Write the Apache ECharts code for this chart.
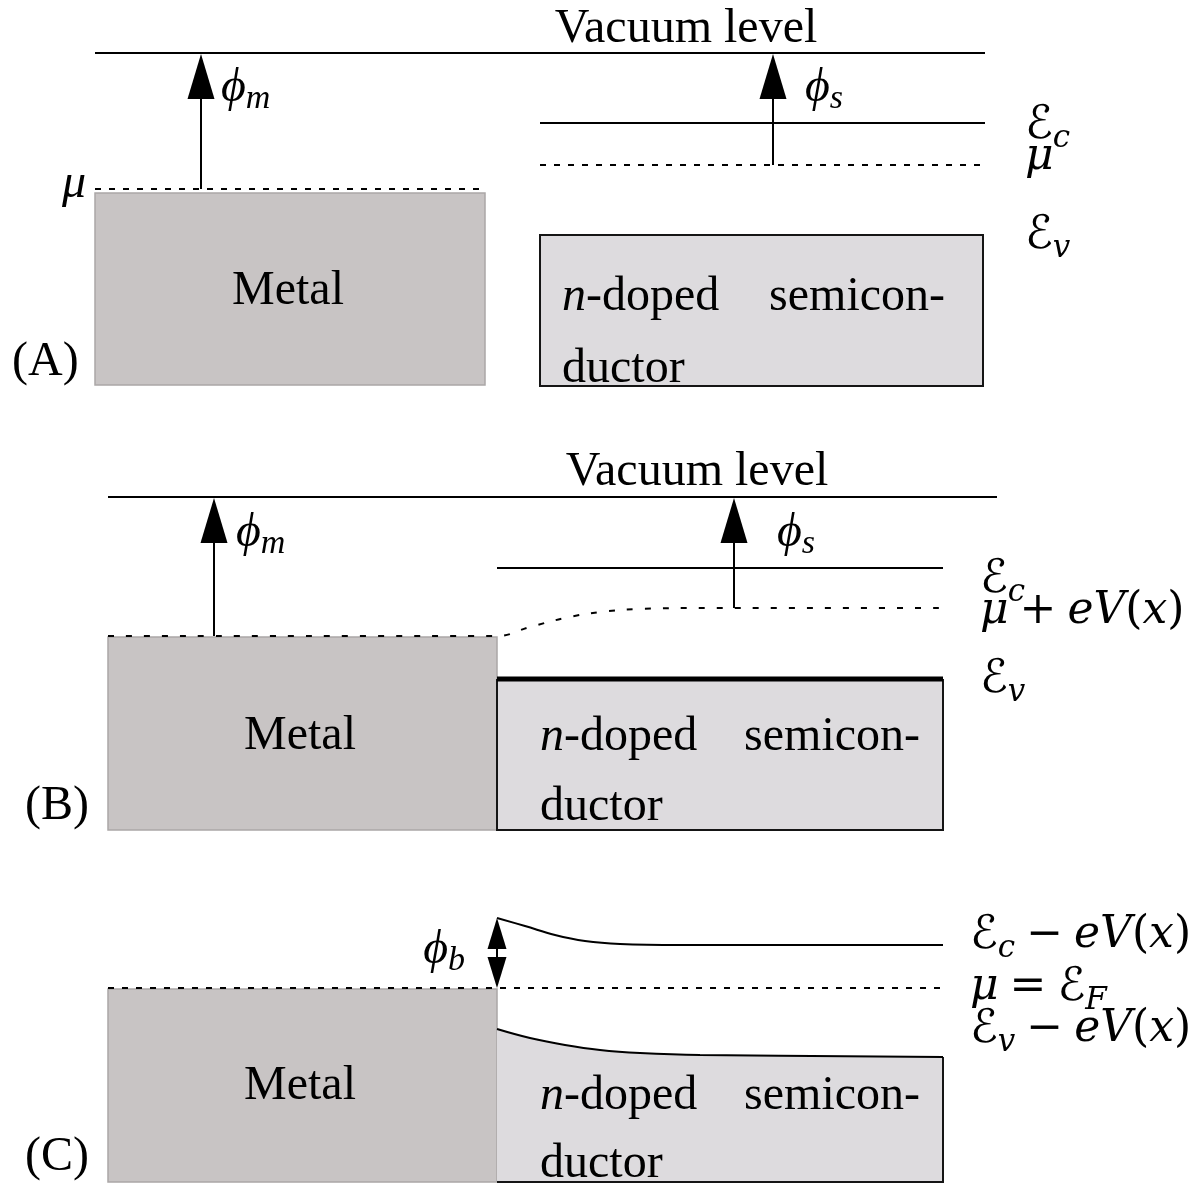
<!DOCTYPE html>
<html>
<head>
<meta charset="utf-8">
<script src="https://cdn.jsdelivr.net/npm/echarts@6/dist/echarts.min.js"></script>
<style>
  html, body { margin: 0; padding: 0; background: #ffffff; }
  #chart { width: 1198px; height: 1186px; }
</style>
</head>
<body>
<div id="chart"></div>
<script>
// Band diagram of a metal / n-doped semiconductor (Schottky) contact.
// Diagram space: x to the right, y downward, one unit per pixel of the 1198 x 1186 frame.

// ---- Panel A: metal and semiconductor apart ----
const vacuumA     = [[95, 53], [985, 53]];
const fermiMetalA = [[95, 189], [485, 189]];
const conductionA = [[540, 123], [985, 123]];
const fermiSemiA  = [[540, 165], [985, 165]];

// ---- Panel B: in contact, before charge transfer ----
const vacuumB     = [[108, 497], [997, 497]];
const conductionB = [[497, 568], [943, 568]];
const fermiB      = [[108, 636], [497, 636], [530, 627], [565, 618], [600, 612], [640, 609], [700, 608], [943, 608]];
const valenceB    = [[497, 679], [943, 679]];

// ---- Panel C: equilibrium, bent bands ----
const fermiC      = [[108, 988], [943, 988]];
const conductionC = [[497, 918], [525, 926], [555, 935], [585, 941], [620, 944], [680, 945], [943, 945]];
const valenceC    = [[497, 1029], [530, 1038], [565, 1045], [600, 1050], [640, 1053], [700, 1055], [943, 1057]];
const semiBaseC   = 1182;   // bottom of the semiconductor block in panel C

// Filled blocks [x0, y0, x1, y1]
const metalBlocks = [[95, 193, 485, 385], [108, 637, 497, 830], [108, 989, 497, 1182]];
const semiBlocks  = [[540, 235, 983, 386], [497, 680, 943, 830]];

// Work-function arrows [x, tail y, tip y] and the barrier double arrow [x, y top, y bottom]
const workArrows   = [[201, 189, 54], [773, 165, 54], [214, 636, 498], [734, 608, 498]];
const barrierArrow = [[497, 918, 988]];

// Plain text [x, y, text, align]
const plainLabels = [
  [686, 29, 'Vacuum level', 'center'],
  [697, 472, 'Vacuum level', 'center'],
  [288, 291, 'Metal', 'center'],
  [300, 736, 'Metal', 'center'],
  [300, 1086, 'Metal', 'center'],
  [12, 362, '(A)', 'left'],
  [25, 806, '(B)', 'left'],
  [25, 1157, '(C)', 'left'],
  [562, 297, '{i|n}-doped', 'left'],
  [945, 297, 'semicon-', 'right'],
  [562, 369, 'ductor', 'left'],
  [540, 737, '{i|n}-doped', 'left'],
  [920, 737, 'semicon-', 'right'],
  [540, 807, 'ductor', 'left'],
  [540, 1096, '{i|n}-doped', 'left'],
  [920, 1096, 'semicon-', 'right'],
  [540, 1164, 'ductor', 'left']
];

// Math labels [x, y, rich text, align]
const SP = '\u2005';
const mathLabels = [
  [86, 184, '{p|\u03bc}', 'right'],
  [221, 88, '{p|\u03d5}{ps|m}', 'left'],
  [805, 88, '{p|\u03d5}{ps|s}', 'left'],
  [1025, 126, '{c|\u2130}{s|c}', 'left'],
  [1025, 158, '{m|\u03bc}', 'left'],
  [1025, 236, '{c|\u2130}{s|v}', 'left'],
  [236, 533, '{p|\u03d5}{ps|m}', 'left'],
  [777, 533, '{p|\u03d5}{ps|s}', 'left'],
  [980, 580, '{c|\u2130}{s|c}', 'left'],
  [980, 612, '{m|\u03bc}{r|' + SP + '+' + SP + '}{m|eV}{r|(}{m|x}{r|)}', 'left'],
  [980, 680, '{c|\u2130}{s|v}', 'left'],
  [465, 950, '{p|\u03d5}{ps|b}', 'right'],
  [970, 936, '{c|\u2130}{s|c}{r|' + SP + '\u2212' + SP + '}{m|eV}{r|(}{m|x}{r|)}', 'left'],
  [970, 988, '{m|\u03bc}{r|' + SP + '=' + SP + '}{c|\u2130}{s|F}', 'left'],
  [970, 1030, '{c|\u2130}{s|v}{r|' + SP + '\u2212' + SP + '}{m|eV}{r|(}{m|x}{r|)}', 'left']
];

// ---- styling ----
const SERIF = '"Liberation Serif", "Times New Roman", "DejaVu Serif", serif';
const MATH = '"DejaVu Serif", "DejaVu Sans", serif';
const INK = '#000000';
const METAL_FILL = '#c8c4c4';
const METAL_EDGE = '#aba7a7';
const SEMI_FILL = '#dddbde';
const SEMI_EDGE = '#151515';
const DASH = [6, 8];

const plainRich = {
  i: { font: 'italic 48px ' + SERIF, fill: INK }
};
const mathRich = {
  p:  { font: 'italic 48px ' + SERIF, fill: INK, lineHeight: 56 },
  ps: { font: 'italic 34px ' + SERIF, fill: INK, lineHeight: 34, verticalAlign: 'bottom' },
  m:  { font: 'italic 44px ' + MATH, fill: INK, lineHeight: 56 },
  r:  { font: '44px ' + MATH, fill: INK, lineHeight: 56 },
  c:  { font: '46px ' + MATH, fill: INK, lineHeight: 56 },
  s:  { font: 'italic 31px ' + MATH, fill: INK, lineHeight: 34, verticalAlign: 'bottom' }
};

function levelLine(data, extra) {
  return Object.assign({
    type: 'line',
    data: data,
    symbol: 'none',
    silent: true,
    z: 5,
    lineStyle: { color: INK, width: 2 }
  }, extra || {});
}

function blockSeries(data, fill, edge, edgeWidth, z) {
  return {
    type: 'custom',
    data: data,
    silent: true,
    z: z,
    encode: { x: [0, 2], y: [1, 3] },
    renderItem: function (params, api) {
      const p0 = api.coord([api.value(0), api.value(1)]);
      const p1 = api.coord([api.value(2), api.value(3)]);
      return {
        type: 'rect',
        shape: { x: p0[0], y: p0[1], width: p1[0] - p0[0], height: p1[1] - p0[1] },
        style: { fill: fill, stroke: edge, lineWidth: edgeWidth }
      };
    }
  };
}

function arrowHead(tip, dir, w, h) {
  // dir = -1 points up, +1 points down
  return {
    type: 'polygon',
    shape: { points: [[tip[0], tip[1]], [tip[0] - w / 2, tip[1] - dir * h], [tip[0] + w / 2, tip[1] - dir * h]] },
    style: { fill: INK }
  };
}

const option = {
  animation: false,
  backgroundColor: '#ffffff',
  grid: { left: 0, right: 0, top: 0, bottom: 0 },
  xAxis: { type: 'value', min: 0, max: 1198, show: false },
  yAxis: { type: 'value', min: 0, max: 1186, inverse: true, show: false },
  series: [
    blockSeries(metalBlocks, METAL_FILL, METAL_EDGE, 1.5, 1),
    blockSeries(semiBlocks, SEMI_FILL, SEMI_EDGE, 2, 1),
    // Panel C semiconductor block bounded above by the bent valence band
    {
      type: 'custom',
      data: [[0, 0]],
      silent: true,
      z: 1,
      renderItem: function (params, api) {
        const top = valenceC.map(function (d) { return api.coord(d); });
        const last = valenceC[valenceC.length - 1];
        const first = valenceC[0];
        const br = api.coord([last[0], semiBaseC]);
        const bl = api.coord([first[0], semiBaseC]);
        return {
          type: 'group',
          children: [
            { type: 'polygon', shape: { points: top.concat([br, bl]), smooth: 0 }, style: { fill: SEMI_FILL } },
            { type: 'polyline', shape: { points: [api.coord(last), br, bl] }, style: { stroke: SEMI_EDGE, lineWidth: 2, fill: null } }
          ]
        };
      }
    },
    levelLine(vacuumA),
    levelLine(fermiMetalA, { lineStyle: { color: INK, width: 2, type: DASH } }),
    levelLine(conductionA),
    levelLine(fermiSemiA, { lineStyle: { color: INK, width: 2, type: DASH } }),
    levelLine(vacuumB),
    levelLine(conductionB),
    levelLine(fermiB, { smooth: 0.4, lineStyle: { color: INK, width: 2, type: [6, 12] } }),
    levelLine(valenceB, { lineStyle: { color: INK, width: 5 } }),
    levelLine(fermiC, { lineStyle: { color: INK, width: 2, type: DASH } }),
    levelLine(conductionC, { smooth: 0.4 }),
    levelLine(valenceC, { smooth: 0.4 }),
    // Work-function arrows
    {
      type: 'custom',
      data: workArrows,
      silent: true,
      z: 6,
      encode: { x: 0, y: [1, 2] },
      renderItem: function (params, api) {
        const tail = api.coord([api.value(0), api.value(1)]);
        const tip = api.coord([api.value(0), api.value(2)]);
        return {
          type: 'group',
          children: [
            { type: 'line', shape: { x1: tail[0], y1: tail[1], x2: tip[0], y2: tip[1] + 20 }, style: { stroke: INK, lineWidth: 2 } },
            arrowHead(tip, -1, 27, 45)
          ]
        };
      }
    },
    // Barrier height double arrow
    {
      type: 'custom',
      data: barrierArrow,
      silent: true,
      z: 6,
      encode: { x: 0, y: [1, 2] },
      renderItem: function (params, api) {
        const top = api.coord([api.value(0), api.value(1)]);
        const bot = api.coord([api.value(0), api.value(2)]);
        return {
          type: 'group',
          children: [
            { type: 'line', shape: { x1: top[0], y1: top[1] + 10, x2: bot[0], y2: bot[1] - 10 }, style: { stroke: INK, lineWidth: 2 } },
            arrowHead(top, -1, 19, 31),
            arrowHead(bot, 1, 19, 31)
          ]
        };
      }
    },
    // Plain text labels
    {
      type: 'custom',
      data: plainLabels.map(function (d) { return [d[0], d[1]]; }),
      silent: true,
      z: 8,
      encode: { x: 0, y: 1 },
      renderItem: function (params, api) {
        const item = plainLabels[params.dataIndex];
        const p = api.coord([item[0], item[1]]);
        return {
          type: 'text',
          x: p[0], y: p[1],
          style: {
            text: item[2], font: '48px ' + SERIF, fill: INK,
            align: item[3], verticalAlign: 'middle', rich: plainRich
          }
        };
      }
    },
    // Math labels
    {
      type: 'custom',
      data: mathLabels.map(function (d) { return [d[0], d[1]]; }),
      silent: true,
      z: 8,
      encode: { x: 0, y: 1 },
      renderItem: function (params, api) {
        const item = mathLabels[params.dataIndex];
        const p = api.coord([item[0], item[1]]);
        return {
          type: 'text',
          x: p[0], y: p[1],
          style: {
            text: item[2], font: '44px ' + MATH, fill: INK,
            align: item[3], verticalAlign: 'middle', rich: mathRich
          }
        };
      }
    }
  ]
};

const chart = echarts.init(document.getElementById('chart'), null, { renderer: 'canvas' });
chart.setOption(option);
</script>
</body>
</html>
